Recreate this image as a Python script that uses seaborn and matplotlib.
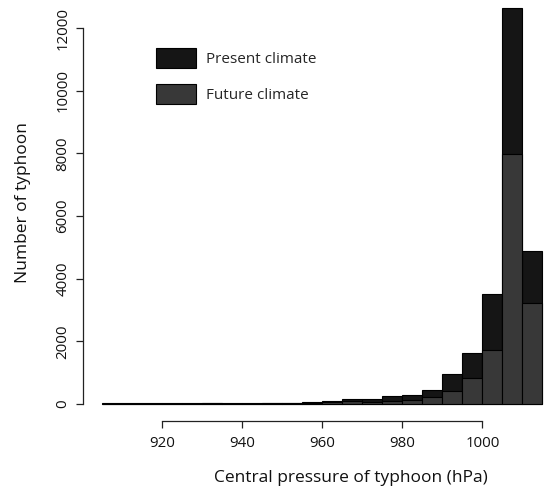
import matplotlib
matplotlib.use("Agg")
import matplotlib.pyplot as plt
import seaborn as sns
import numpy as np
import pandas as pd
from matplotlib.patches import Patch

# ---- data ----
bin_left = [905, 910, 915, 920, 925, 930, 935, 940, 945, 950, 955,
            960, 965, 970, 975, 980, 985, 990, 995, 1000, 1005, 1010]
present = [10, 10, 10, 30, 30, 20, 30, 30, 30, 20, 55,
           86, 150, 169, 246, 297, 447, 948, 1628, 3500, 12640, 4883]
future = [25, 25, 25, 15, 15, 35, 15, 15, 20, 40, 40,
          50, 100, 73, 86, 137, 233, 425, 820, 1724, 7970, 3214]
series_names = ["Present climate", "Future climate"]
x_ticks = [920, 940, 960, 980, 1000]
y_ticks = [0, 2000, 4000, 6000, 8000, 10000, 12000]

sns.set_style("ticks")
plt.rcParams['font.family'] = ['Open Sans', 'DejaVu Sans']

W, H = 546, 491
fig = plt.figure(figsize=(W / 100, H / 100), dpi=100)
ax_l, ax_b = 83, 421  # pixel positions (left spine x, bottom spine y from top)
ax = fig.add_axes([ax_l / W, (H - ax_b) / H, (W - ax_l) / W, ax_b / H])

edges = bin_left + [bin_left[-1] + 5]
centers = [b + 2.5 for b in bin_left]
df = pd.DataFrame({"p": centers, "present": present, "future": future})

c_present = "#151515"
c_future = "#383838"
sns.histplot(data=df, x="p", weights="present", bins=edges, color=c_present,
             edgecolor="black", linewidth=0.8, alpha=1, ax=ax)
sns.histplot(data=df, x="p", weights="future", bins=edges, color=c_future,
             edgecolor="black", linewidth=0.8, alpha=1, ax=ax)

# scales: 4.008 px/hPa, 0.03133 px/count
pxh = 4.008
pyc = 0.03133
x0 = 905 - (101.6 - ax_l) / pxh
x1 = x0 + (W - ax_l) / pxh
y0 = -(ax_b - 404) / pyc
y1 = y0 + ax_b / pyc
ax.set_xlim(x0, x1)
ax.set_ylim(y0, y1)

for s in ["top", "right"]:
    ax.spines[s].set_visible(False)
ax.spines["left"].set_bounds(0, 12000)
ax.spines["bottom"].set_bounds(920, 1000)
for s in ["left", "bottom"]:
    ax.spines[s].set_linewidth(0.9)
    ax.spines[s].set_color("#222222")

ax.set_xticks(x_ticks)
ax.set_yticks(y_ticks)
ax.set_yticklabels([str(v) for v in y_ticks], rotation=90, va="center")
ax.tick_params(axis="both", length=5, width=0.9, color="#222222",
               labelsize=10.8, labelcolor="#111111")
ax.tick_params(axis="x", pad=6)
ax.tick_params(axis="y", pad=4)

ax.set_xlabel("Central pressure of typhoon (hPa)", fontsize=12.5, color="#111111")
ax.set_ylabel("Number of typhoon", fontsize=12.5, color="#111111")
ax.xaxis.set_label_coords((351 - ax_l) / (W - ax_l), (ax_b - 470) / ax_b)
ax.yaxis.set_label_coords((31 - ax_l) / (W - ax_l), (ax_b - 203) / ax_b)

handles = [Patch(facecolor=c_present, edgecolor="black", linewidth=0.8),
           Patch(facecolor=c_future, edgecolor="black", linewidth=0.8)]
ax.legend(handles, series_names, loc="upper left",
          bbox_to_anchor=(156 / W, 1 - 48 / H), bbox_transform=fig.transFigure,
          frameon=False, fontsize=11, handlelength=2.6, handleheight=1.65,
          labelspacing=1.05, handletextpad=0.7, borderpad=0, borderaxespad=0)

fig.savefig("out.png", dpi=100)
